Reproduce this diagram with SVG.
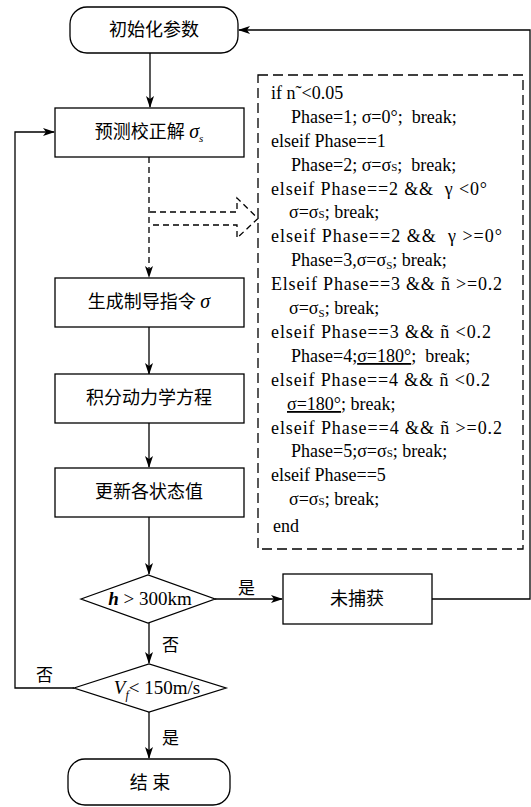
<svg xmlns="http://www.w3.org/2000/svg" width="531" height="807" viewBox="0 0 531 807">
<defs>
<marker id="arr" markerWidth="12" markerHeight="8" refX="11" refY="4" orient="auto" markerUnits="userSpaceOnUse">
<path d="M0,0 L12,4 L0,8 L3,4 Z" fill="#000"/>
</marker>
<style>
.box{fill:#fff;stroke:#000;stroke-width:1.3}
.cn{font-family:"Liberation Serif","Noto Sans CJK SC",serif;font-size:18px;fill:#000;text-anchor:middle}
.lbl{font-family:"Liberation Serif","Noto Sans CJK SC",serif;font-size:17px;fill:#000}
.math{font-family:"Liberation Serif","Times New Roman",serif;font-size:19px;fill:#000;text-anchor:middle}
.code{font-family:"Liberation Serif","Times New Roman",serif;font-size:18px;fill:#000;white-space:pre}
.ln{fill:none;stroke:#000;stroke-width:1.3}
.dash{fill:none;stroke:#000;stroke-width:1.3;stroke-dasharray:6 4}
.sub{font-size:11px}
</style>
</defs>
<rect width="531" height="807" fill="#fff"/>

<g id="connectors">
<line class="ln" x1="150" y1="53" x2="150" y2="107" marker-end="url(#arr)"/>
<line class="dash" x1="149" y1="157" x2="149" y2="277" marker-end="url(#arr)"/>
<path class="dash" d="M150,212 L237,212 L237,198 L258,218.5 L237,238 L237,225 L150,225"/>
<line class="ln" x1="149" y1="327" x2="149" y2="374" marker-end="url(#arr)"/>
<line class="ln" x1="149" y1="423" x2="149" y2="467" marker-end="url(#arr)"/>
<line class="ln" x1="149" y1="517" x2="149" y2="574" marker-end="url(#arr)"/>
<line class="ln" x1="215" y1="599" x2="282" y2="599" marker-end="url(#arr)"/>
<line class="ln" x1="149" y1="623" x2="149" y2="663" marker-end="url(#arr)"/>
<line class="ln" x1="149" y1="712" x2="149" y2="758" marker-end="url(#arr)"/>
<polyline class="ln" points="74,688 15,688 15,132 54,132" marker-end="url(#arr)"/>
<polyline class="ln" points="432,599 530,599 530,30 239,30" marker-end="url(#arr)"/>
<text class="lbl" x="238" y="594">是</text>
<text class="lbl" x="162" y="651">否</text>
<text class="lbl" x="36" y="681">否</text>
<text class="lbl" x="162" y="744">是</text>
</g>

<g id="start">
<rect class="box" x="70" y="7" width="168" height="46" rx="17"/>
<text class="cn" x="154" y="36">初始化参数</text>
</g>

<g id="predict">
<rect class="box" x="55" y="108" width="189" height="49"/>
<text class="cn" x="149" y="138">预测校正解 <tspan font-style="italic" font-family="Liberation Serif" font-size="20">σ</tspan><tspan font-style="italic" font-family="Liberation Serif" font-size="11" dy="4">s</tspan></text>
</g>

<g id="guidance">
<rect class="box" x="55" y="278" width="189" height="49"/>
<text class="cn" x="149" y="308">生成制导指令 <tspan font-style="italic" font-family="Liberation Serif" font-size="20">σ</tspan></text>
</g>

<g id="integrate">
<rect class="box" x="55" y="374" width="189" height="49"/>
<text class="cn" x="149" y="404">积分动力学方程</text>
</g>

<g id="update">
<rect class="box" x="55" y="468" width="189" height="49"/>
<text class="cn" x="149" y="498">更新各状态值</text>
</g>

<g id="cond-h">
<polygon class="box" points="81,599 148,575 215,599 148,623"/>
<text class="math" x="150" y="605"><tspan font-style="italic" font-weight="bold">h</tspan> &gt; 300km</text>
</g>

<g id="notcaptured">
<rect class="box" x="283" y="574" width="149" height="50"/>
<text class="cn" x="357" y="605">未捕获</text>
</g>

<g id="cond-v">
<polygon class="box" points="74,688 149,664 226,688 149,712"/>
<text class="math" x="157" y="694"><tspan font-style="italic">V</tspan><tspan font-style="italic" font-size="12" dy="5">f</tspan><tspan dy="-5">&lt; 150m/s</tspan></text>
</g>

<g id="end">
<rect class="box" x="68" y="759" width="162" height="46" rx="17"/>
<text class="cn" x="150" y="789">结 束</text>
</g>

<g id="logic">
<rect x="258" y="75" width="265" height="474" fill="none" stroke="#000" stroke-width="1.3" stroke-dasharray="10 5"/>
<text class="code" x="271" y="99">if n˜&lt;0.05</text>
<text class="code" x="291" y="123">Phase=1; σ=0°;  break;</text>
<text class="code" x="271" y="147">elseif Phase==1</text>
<text class="code" x="291" y="171">Phase=2; σ=σ<tspan class="sub">S</tspan>;  break;</text>
<text class="code" x="271" y="195" textLength="216" lengthAdjust="spacing">elseif Phase==2 &amp;&amp;  γ &lt;0°</text>
<text class="code" x="289" y="218">σ=σ<tspan class="sub">S</tspan>; break;</text>
<text class="code" x="271" y="242" textLength="231" lengthAdjust="spacing">elseif Phase==2 &amp;&amp;  γ &gt;=0°</text>
<text class="code" x="291" y="266">Phase=3,σ=σ<tspan class="sub" dy="3">S</tspan><tspan dy="-3">; break;</tspan></text>
<text class="code" x="271" y="290" textLength="231" lengthAdjust="spacing">Elseif Phase==3 &amp;&amp; ñ &gt;=0.2</text>
<text class="code" x="289" y="314">σ=σ<tspan class="sub" dy="3">S</tspan><tspan dy="-3">; break;</tspan></text>
<text class="code" x="271" y="338" textLength="220" lengthAdjust="spacing">elseif Phase==3 &amp;&amp; ñ &lt;0.2</text>
<text class="code" x="291" y="362">Phase=4;<tspan text-decoration="underline">σ=180°</tspan>;  break;</text>
<text class="code" x="271" y="386" textLength="219" lengthAdjust="spacing">elseif Phase==4 &amp;&amp; ñ &lt;0.2</text>
<text class="code" x="287" y="410"><tspan text-decoration="underline">σ=180°</tspan>; break;</text>
<text class="code" x="271" y="434" textLength="231" lengthAdjust="spacing">elseif Phase==4 &amp;&amp; ñ &gt;=0.2</text>
<text class="code" x="291" y="457">Phase=5;σ=σ<tspan class="sub">S</tspan>; break;</text>
<text class="code" x="271" y="481">elseif Phase==5</text>
<text class="code" x="289" y="505">σ=σ<tspan class="sub">S</tspan>; break;</text>
<text class="code" x="273" y="532">end</text>
</g>
</svg>
